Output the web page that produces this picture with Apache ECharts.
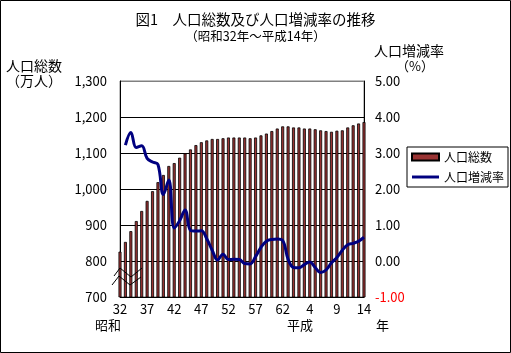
<!DOCTYPE html>
<html><head><meta charset="utf-8">
<script src="https://cdn.jsdelivr.net/npm/echarts@6/dist/echarts.min.js"></script>
<style>html,body{margin:0;padding:0;background:#fff}#c{width:511px;height:353px}</style>
</head><body><div id="c"></div>
<script>
// 年（昭和32年〜昭和63年, 平成元年〜平成14年）
const years = ['32','33','34','35','36','37','38','39','40','41','42','43','44','45','46','47','48','49','50','51','52','53','54','55','56','57','58','59','60','61','62','63','1','2','3','4','5','6','7','8','9','10','11','12','13','14'];
// 人口総数（万人）
const population = [826,853,883,911,939,967,994,1019,1039,1064,1072,1087,1099,1110,1122,1130,1135,1139,1139,1141,1143,1143,1143,1143,1141,1143,1149,1154,1161,1168,1174,1174,1171,1171,1168,1168,1166,1163,1161,1159,1162,1163,1171,1177,1182,1186];
// 人口増減率（%）
const rate = [null,3.22,3.57,3.15,3.20,2.85,2.75,2.68,1.85,2.25,0.92,1.12,1.42,0.85,0.83,0.84,0.62,0.30,0.03,0.19,0.04,0.05,0.04,-0.07,-0.08,0.12,0.38,0.55,0.60,0.61,0.57,0.05,-0.18,-0.19,-0.10,-0.03,-0.18,-0.32,-0.25,-0.05,0.10,0.30,0.45,0.49,0.55,0.66];
const seriesNames = ['人口総数','人口増減率'];

const F = '"Noto Sans CJK JP","Noto Sans",sans-serif';
const chart = echarts.init(document.getElementById('c'), null, {renderer:'canvas'});
function t(text, left, top, size){
  return {text:text, left:left, top:top, padding:0, textStyle:{fontSize:size, fontWeight:'normal', color:'#000', fontFamily:F}};
}
chart.setOption({
  animation:false,
  backgroundColor:'#fff',
  title:[
    t('図1　人口総数及び人口増減率の推移','center',12,14.5),
    t('（昭和32年～平成14年）','center',30,12.5),
    t('人口総数',6,59,14),
    t('（万人）',6,74,14),
    t('人口増減率',374,44,14),
    t('（%）',396,60,13),
    t('昭和',95,319,13),
    t('平成',287,319,13),
    t('年',376,319,13)
  ],
  legend:{
    orient:'vertical', left:407, top:147, padding:[4,4,4,4], itemGap:8,
    itemWidth:27, itemHeight:7, borderColor:'#000', borderWidth:1, backgroundColor:'#fff',
    textStyle:{fontSize:12, fontFamily:F, color:'#000'},
    data:[{name:seriesNames[0], icon:'rect'},{name:seriesNames[1], icon:'path://M0,0h100v11h-100z'}]
  },
  grid:{left:120, right:147, top:81, bottom:56, show:true, borderColor:'#808080', borderWidth:1},
  xAxis:{
    type:'category', data:years, boundaryGap:false,
    axisLine:{lineStyle:{color:'#000', width:1}},
    axisTick:{show:false},
    axisLabel:{interval:4, fontSize:13, color:'#000', margin:6, fontFamily:F},
    splitLine:{show:false}
  },
  yAxis:[
    {type:'value', min:700, max:1300, interval:100,
     axisLine:{show:true, lineStyle:{color:'#000'}}, axisTick:{show:false},
     axisLabel:{fontSize:13, color:'#000', margin:13, fontFamily:F,
       formatter:v=>v.toLocaleString('en-US')},
     splitLine:{show:true, lineStyle:{color:['#000','#000','#000','#000','#000','#000','#808080'], width:1}}},
    {type:'value', min:-1, max:5, interval:1, position:'right',
     axisLine:{show:true, lineStyle:{color:'#000'}}, axisTick:{show:false},
     axisLabel:{fontSize:13, margin:11, fontFamily:F,
       formatter:v=>v.toFixed(2), color:v=>(Number(v)<0?'#ff0000':'#000')},
     splitLine:{show:false}}
  ],
  series:[
    {name:seriesNames[0], type:'bar', data:population, barWidth:3,
     itemStyle:{color:'#993333', borderColor:'#000', borderWidth:0.8}},
    {name:seriesNames[1], type:'line', yAxisIndex:1, data:rate, symbol:'none', smooth:0.4,
     lineStyle:{width:3, color:'#000080'}, itemStyle:{color:'#000080'}, z:5}
  ],
  graphic:[
    {type:'rect', silent:true, shape:{x:0.5,y:0.5,width:510,height:352}, style:{fill:null, stroke:'#000', lineWidth:1}},
    {type:'polyline', silent:true, z:100, shape:{points:[[114,276],[120,268],[131,277],[142,268]]}, style:{fill:null, stroke:'#000', lineWidth:1}},
    {type:'polyline', silent:true, z:100, shape:{points:[[112,285],[119,276],[130,285],[141,277]]}, style:{fill:null, stroke:'#000', lineWidth:1}}
  ]
});
</script></body></html>
